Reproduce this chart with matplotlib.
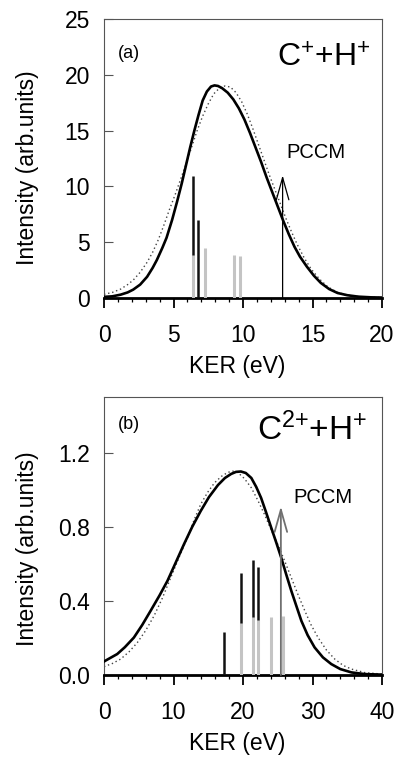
import numpy as np
import matplotlib
matplotlib.use("Agg")
import matplotlib.pyplot as plt
from matplotlib.ticker import MultipleLocator

plt.rcParams['font.family'] = ['Liberation Sans', 'DejaVu Sans']
plt.rcParams['mathtext.default'] = 'regular'

# panel (a): C+ + H+
a_solid_x = [0, 0.6, 1.2, 1.7, 2.1, 2.6, 3.1, 3.5, 3.8, 4.2, 4.5, 4.9, 5.25, 5.6, 5.9, 6.2,
             6.5, 6.8, 7.1, 7.4, 7.7, 7.95, 8.2, 8.5, 8.9, 9.3, 9.7, 10.1, 10.5, 10.9, 11.3,
             11.7, 12.1, 12.5, 12.9, 13.3, 13.7, 14.1, 14.6, 15.1, 15.6, 16.2, 16.8, 17.5,
             18.3, 19.2, 20.0]
a_solid_y = [0.1, 0.15, 0.3, 0.5, 0.75, 1.2, 1.9, 2.7, 3.4, 4.5, 5.4, 7.0, 8.6, 10.3, 11.9, 13.5,
             15.0, 16.4, 17.7, 18.5, 18.95, 19.05, 19.0, 18.8, 18.4, 17.8, 17.0, 16.0, 14.8, 13.5, 12.2,
             10.8, 9.5, 8.2, 6.9, 5.7, 4.6, 3.7, 2.8, 2.0, 1.35, 0.8, 0.45, 0.25,
             0.12, 0.06, 0.04]
a_dot_x = [0, 0.6, 1.2, 1.7, 2.1, 2.6, 3.1, 3.5, 3.9, 4.3, 4.7, 5.1, 5.5, 5.9, 6.3, 6.7, 7.1,
           7.5, 7.9, 8.3, 8.7, 9.1, 9.5, 9.9, 10.3, 10.7, 11.1, 11.5, 11.9, 12.3, 12.7, 13.1,
           13.5, 13.9, 14.4, 14.9, 15.5, 16.1, 16.8, 17.5, 18.5, 20.0]
a_dot_y = [0.33, 0.5, 0.8, 1.2, 1.6, 2.3, 3.2, 4.1, 5.2, 6.5, 7.9, 9.2, 10.6, 12.0, 13.5, 15.0, 16.3,
           17.4, 18.3, 18.8, 19.0, 18.9, 18.4, 17.6, 16.5, 15.2, 13.8, 12.4, 11.0, 9.7, 8.4, 7.1,
           5.9, 4.8, 3.6, 2.6, 1.7, 1.0, 0.5, 0.25, 0.1, 0.04]
a_black_x = [6.4, 6.75]
a_black_h = [10.9, 7.0]
a_gray_x = [6.4, 7.25, 9.35, 9.8]
a_gray_h = [3.85, 4.45, 3.85, 3.8]
a_pccm_x = 12.85
a_pccm_h = 11.0

# panel (b): C2+ + H+
b_solid_x = [0, 1.9, 3.0, 4.3, 5.5, 6.7, 8.0, 9.13, 10.3, 11.5, 12.7, 13.9, 15.1, 16.4, 17.4,
             18.3, 19.0, 19.7, 20.4, 21.2, 21.9, 22.6, 23.3, 24.06, 24.8, 25.5, 26.2, 26.95,
             27.7, 28.4, 29.3, 30.3, 31.5, 32.7, 34.0, 35.6, 37.5, 40]
b_solid_y = [0.073, 0.113, 0.15, 0.202, 0.27, 0.346, 0.43, 0.508, 0.605, 0.705, 0.80, 0.884, 0.96,
             1.025, 1.063, 1.085, 1.096, 1.098, 1.09, 1.063, 1.015, 0.956, 0.88, 0.795, 0.713,
             0.633, 0.545, 0.454, 0.37, 0.292, 0.215, 0.149, 0.095, 0.059, 0.032, 0.014,
             0.005, 0.002]
b_dot_x = [0, 1.2, 2.4, 3.6, 4.8, 6.0, 7.2, 8.4, 9.6, 10.8, 12.0, 13.0, 13.9, 14.9, 15.9, 16.9,
           17.8, 18.5, 19.25, 20.2, 21.2, 22.1, 23.1, 24.0, 25.0, 26.0, 26.95, 27.9, 28.9, 29.8,
           30.8, 32.0, 33.2, 34.4, 35.6, 37.5, 40]
b_dot_y = [0.045, 0.062, 0.086, 0.125, 0.175, 0.24, 0.319, 0.415, 0.525, 0.635, 0.74, 0.84, 0.92,
           0.985, 1.037, 1.072, 1.093, 1.10, 1.093, 1.06, 1.01, 0.945, 0.866, 0.787, 0.705, 0.615,
           0.525, 0.435, 0.346, 0.27, 0.202, 0.135, 0.086, 0.052, 0.032, 0.013, 0.005]
b_black_x = [17.25, 19.7, 21.5, 22.2]
b_black_h = [0.233, 0.548, 0.62, 0.585]
b_gray_x = [19.7, 21.5, 22.2, 24.0, 25.8]
b_gray_h = [0.278, 0.315, 0.296, 0.315, 0.319]
b_pccm_x = 25.45
b_pccm_h = 0.91

fig = plt.figure(figsize=(3.96, 7.61), dpi=100)
ax_a = fig.add_axes([104/396, 1-298/761, 278/396, 279/761])
ax_b = fig.add_axes([104/396, 1-675/761, 278/396, 278/761])

panels = [
    (ax_a, a_solid_x, a_solid_y, a_dot_x, a_dot_y, a_black_x, a_black_h, a_gray_x, a_gray_h,
     a_pccm_x, a_pccm_h, 'black', 0.9),
    (ax_b, b_solid_x, b_solid_y, b_dot_x, b_dot_y, b_black_x, b_black_h, b_gray_x, b_gray_h,
     b_pccm_x, b_pccm_h, '#707070', 1.3),
]

for (ax, sx, sy, dx, dy, bx, bh, gx, gh, px, ph, acol, alw) in panels:
    ax.plot(dx, dy, linestyle=(0, (1, 2)), color='#444444', linewidth=1.0, zorder=2)
    ax.plot(sx, sy, color='black', linewidth=1.9, zorder=3)
    ax.vlines(bx, 0, bh, color='#111111', linewidth=1.8, zorder=4)
    ax.vlines(gx, 0, gh, color='#c4c4c4', linewidth=2.2, zorder=5)
    ax.annotate('', xy=(px, ph), xytext=(px, 0),
                arrowprops=dict(arrowstyle='->,head_length=1.6,head_width=0.45',
                                mutation_scale=10, color=acol, lw=alw,
                                shrinkA=0, shrinkB=0), zorder=6)
    for side in ['top', 'right', 'left']:
        ax.spines[side].set_color('#555555')
        ax.spines[side].set_linewidth(0.8)
    ax.spines['bottom'].set_color('black')
    ax.spines['bottom'].set_linewidth(2.0)
    ax.tick_params(axis='y', direction='in', length=6.5, width=0.8, color='#555555',
                   pad=10, labelsize=16.5)
    ax.tick_params(axis='x', which='major', direction='out', length=7, width=1.3,
                   pad=12, labelsize=16.5)
    ax.tick_params(axis='x', which='minor', direction='out', length=3, width=0.9)
    ax.set_xlabel('KER (eV)', fontsize=16.5)
    ax.set_ylabel('Intensity (arb.units)', fontsize=16.5)

# panel (a) axes
ax_a.set_xlim(0, 20)
ax_a.set_ylim(0, 25)
ax_a.set_xticks([0, 5, 10, 15, 20])
ax_a.xaxis.set_minor_locator(MultipleLocator(1))
ax_a.set_yticks([0, 5, 10, 15, 20, 25])
ax_a.text(0.05, 0.875, '(a)', transform=ax_a.transAxes, fontsize=13, ha='left', va='center')
ax_a.text(0.957, 0.828, r'C$^{+}$+H$^{+}$', transform=ax_a.transAxes, fontsize=23,
          ha='right', va='baseline')
ax_a.text(13.15, 13.0, 'PCCM', fontsize=14.5, ha='left', va='center')
ax_a.yaxis.set_label_coords(-0.235, 0.466)
ax_a.xaxis.set_label_coords(0.48, -0.205)

# panel (b) axes
ax_b.set_xlim(0, 40)
ax_b.set_ylim(0, 1.5)
ax_b.set_xticks([0, 10, 20, 30, 40])
ax_b.xaxis.set_minor_locator(MultipleLocator(2))
ax_b.set_yticks([0.0, 0.4, 0.8, 1.2])
ax_b.set_yticklabels(['0.0', '0.4', '0.8', '1.2'])
ax_b.text(0.05, 0.9, '(b)', transform=ax_b.transAxes, fontsize=13, ha='left', va='center')
ax_b.text(0.946, 0.845, r'C$^{2{+}}$+H$^{+}$', transform=ax_b.transAxes, fontsize=24,
          ha='right', va='baseline')
ax_b.text(27.2, 0.96, 'PCCM', fontsize=14.5, ha='left', va='center')
ax_b.yaxis.set_label_coords(-0.235, 0.453)
ax_b.xaxis.set_label_coords(0.48, -0.205)

fig.savefig('out.png', dpi=100)
